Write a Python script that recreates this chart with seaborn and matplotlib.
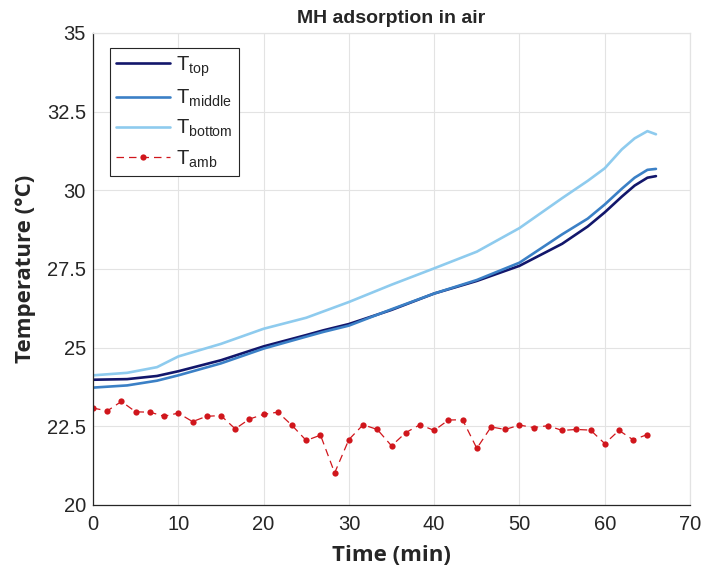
import matplotlib
matplotlib.use("Agg")
import matplotlib.pyplot as plt
import seaborn as sns
import pandas as pd

# temperature probes
time_probe = [0, 4, 7.5, 10, 15, 20, 25, 27, 30, 35, 40, 45, 50, 55, 58, 60, 62, 63.5, 65, 66]
t_top = [23.98, 24.0, 24.1, 24.25, 24.6, 25.04, 25.4, 25.55, 25.75, 26.2, 26.72, 27.12,
         27.6, 28.3, 28.85, 29.3, 29.8, 30.15, 30.4, 30.45]
t_middle = [23.73, 23.8, 23.95, 24.12, 24.5, 24.97, 25.35, 25.5, 25.7, 26.22, 26.72, 27.15,
            27.7, 28.6, 29.1, 29.55, 30.05, 30.4, 30.65, 30.68]
t_bottom = [24.12, 24.2, 24.38, 24.72, 25.12, 25.6, 25.95, 26.15, 26.45, 27.0, 27.52, 28.05,
            28.8, 29.75, 30.3, 30.7, 31.3, 31.65, 31.88, 31.78]

# ambient samples
time_amb = [0, 1.67, 3.33, 5, 6.67, 8.33, 10, 11.67, 13.33, 15, 16.67, 18.33, 20, 21.67,
            23.33, 25, 26.67, 28.33, 30, 31.67, 33.33, 35, 36.67, 38.33, 40, 41.67, 43.33,
            45, 46.67, 48.33, 50, 51.67, 53.33, 55, 56.67, 58.33, 60, 61.67, 63.33, 65]
t_amb = [23.08, 22.99, 23.29, 22.96, 22.95, 22.82, 22.92, 22.65, 22.82, 22.84, 22.42, 22.73,
         22.88, 22.95, 22.53, 22.05, 22.22, 21.02, 22.08, 22.55, 22.40, 21.88, 22.30, 22.55,
         22.37, 22.70, 22.71, 21.80, 22.48, 22.40, 22.54, 22.46, 22.52, 22.37, 22.40, 22.38,
         21.95, 22.37, 22.07, 22.24]

x_ticks = [0, 10, 20, 30, 40, 50, 60, 70]
y_ticks = [20, 22.5, 25, 27.5, 30, 32.5, 35]
y_tick_labels = ["20", "22.5", "25", "27.5", "30", "32.5", "35"]

sns.set_style("whitegrid")
plt.rcParams['font.family'] = ['Liberation Sans', 'DejaVu Sans']
plt.rcParams['mathtext.default'] = 'regular'

probes = pd.DataFrame({"time": time_probe, "top": t_top, "middle": t_middle, "bottom": t_bottom})
amb = pd.DataFrame({"time": time_amb, "amb": t_amb})

fig = plt.figure(figsize=(7.02, 5.78), dpi=100)
ax = fig.add_axes([0.1325, 0.1263, 0.8505, 0.8167])

sns.lineplot(data=probes, x="time", y="top", ax=ax, color="#12166b", lw=1.9,
             label=r"T$_{top}$")
sns.lineplot(data=probes, x="time", y="middle", ax=ax, color="#3b80c6", lw=1.9,
             label=r"T$_{middle}$")
sns.lineplot(data=probes, x="time", y="bottom", ax=ax, color="#8ecbee", lw=1.9,
             label=r"T$_{bottom}$")
sns.lineplot(data=amb, x="time", y="amb", ax=ax, color="#d0161c", lw=0.9,
             linestyle=(0, (6, 4)), marker="o", markersize=4.5, markeredgewidth=0,
             label=r"T$_{amb}$")

ax.set_xlim(0, 70)
ax.set_ylim(20, 35)
ax.set_xticks(x_ticks)
ax.set_yticks(y_ticks)
ax.set_yticklabels(y_tick_labels)
ax.tick_params(axis="both", labelsize=14.5, labelcolor="#262626", length=4,
               direction="in", color="#262626", width=0.8)
ax.tick_params(axis="x", pad=7)
ax.tick_params(axis="y", pad=5)
ax.grid(True, color="#e3e3e3", lw=0.8)

for side in ["left", "bottom"]:
    ax.spines[side].set_color("#262626")
    ax.spines[side].set_linewidth(0.9)
for side in ["top", "right"]:
    ax.spines[side].set_color("#e3e3e3")
    ax.spines[side].set_linewidth(0.9)

ax.set_title("MH adsorption in air", fontsize=14, fontweight="bold", pad=7)
ax.set_xlabel("Time (min)", fontsize=16, fontweight="bold", family="Open Sans",
              color="#262626", labelpad=8)
ax.set_ylabel("Temperature (\u00b0C)", fontsize=16, fontweight="bold", family="Open Sans",
              color="#262626", labelpad=8)

leg = ax.legend(loc="upper left", bbox_to_anchor=(0.0285, 0.968), borderaxespad=0,
                fontsize=14.5, frameon=True, fancybox=False, handlelength=2.7,
                labelspacing=0.45, borderpad=0.3, handletextpad=0.3)
leg.get_frame().set_edgecolor("#262626")
leg.get_frame().set_linewidth(0.8)
leg.get_frame().set_alpha(1)

fig.savefig("out.png", dpi=100)
